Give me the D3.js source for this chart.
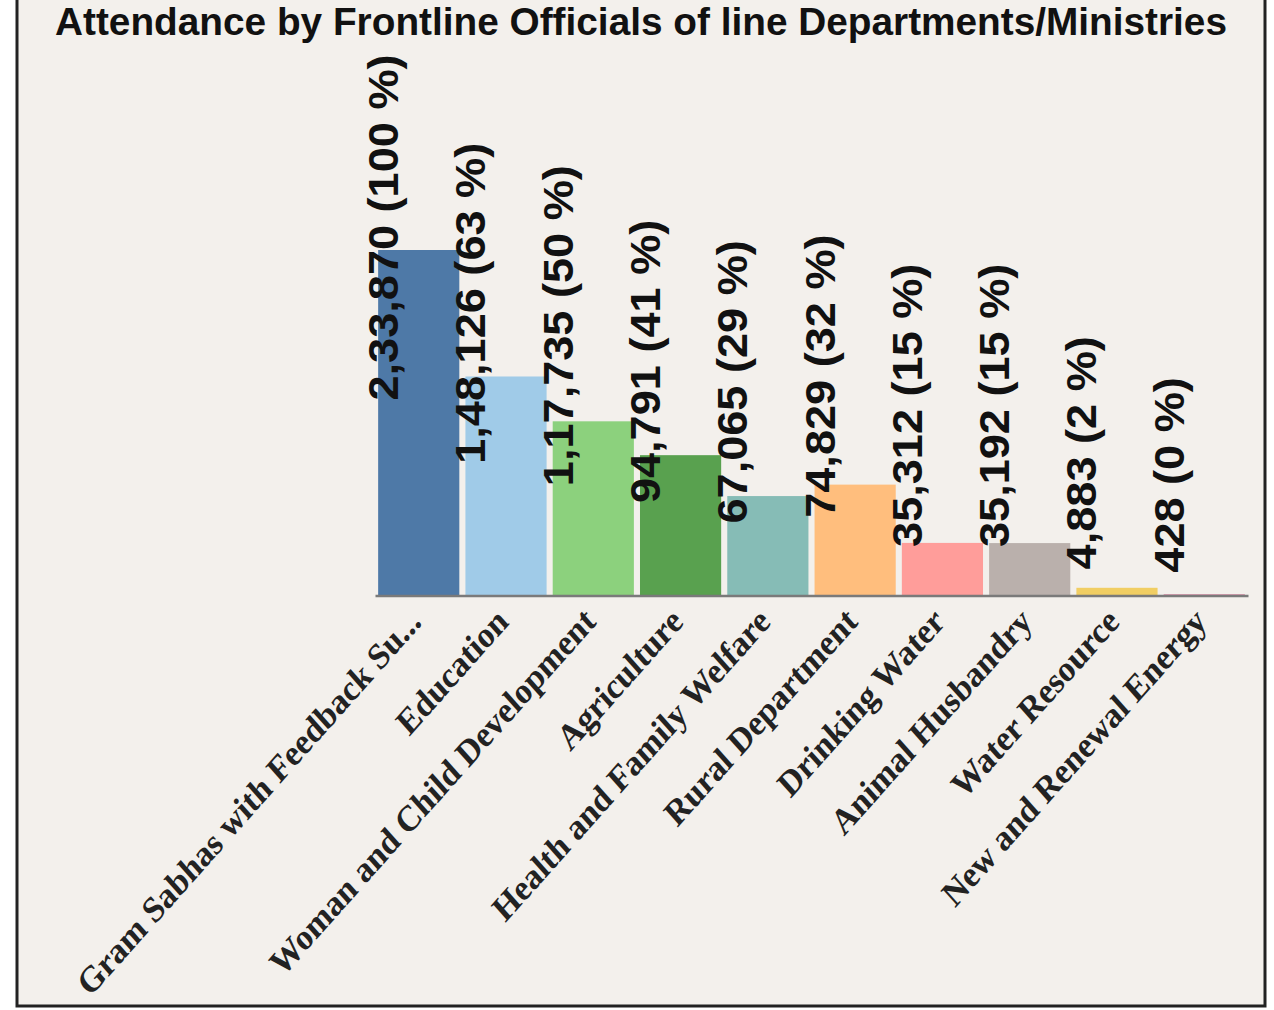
<!DOCTYPE html>
<html>
<head>
<meta charset="utf-8">
<script src="https://cdn.jsdelivr.net/npm/d3@7"></script>
<style>
  html, body { margin: 0; padding: 0; background: #ffffff; }
  svg { display: block; }
</style>
</head>
<body>
<svg id="chart" width="1274" height="1010"></svg>
<script>
const title = "Attendance by Frontline Officials of line Departments/Ministries";
const categories = [
  "Gram Sabhas with Feedback Su...",
  "Education",
  "Woman and Child Development",
  "Agriculture",
  "Health and Family Welfare",
  "Rural Department",
  "Drinking Water",
  "Animal Husbandry",
  "Water Resource",
  "New and Renewal Energy"
];
const values = [233870, 148126, 117735, 94791, 67065, 74829, 35312, 35192, 4883, 428];
const colors = ["#4e79a7", "#a0cbe8", "#8cd17d", "#59a14f", "#86bcb6",
                "#ffbe7d", "#ff9d9a", "#bab0ac", "#f1ce63", "#d37295"];

function fmtIN(n) {
  const s = String(n);
  if (s.length <= 3) return s;
  const last3 = s.slice(-3);
  const rest = s.slice(0, -3);
  return rest.replace(/\B(?=(\d{2})+(?!\d))/g, ",") + "," + last3;
}

const svg = d3.select("#chart");
const maxV = d3.max(values);

// panel background and frame
svg.append("rect").attr("x", 17).attr("y", 0).attr("width", 1248).attr("height", 1006)
  .attr("fill", "#f3f0ec");
svg.append("path").attr("d", "M17,0 V1006 H1265 V0")
  .attr("fill", "none").attr("stroke", "#222").attr("stroke-width", 3);

const x = d3.scaleBand().domain(categories).range([375, 1248])
  .paddingInner(0.07).paddingOuter(0.036);
const y = d3.scaleLinear().domain([0, maxV]).range([595, 250]);

// bars
svg.append("g").selectAll("rect").data(categories).join("rect")
  .attr("x", d => x(d))
  .attr("y", (d, i) => y(values[i]))
  .attr("width", x.bandwidth())
  .attr("height", (d, i) => y(0) - y(values[i]))
  .attr("fill", (d, i) => colors[i]);

// axis
const axis = d3.axisBottom(x).tickSize(0).tickPadding(0);
const gx = svg.append("g").attr("transform", `translate(0,${y(0) + 0.5})`).call(axis);
gx.select(".domain").attr("stroke", "#7a7a7a").attr("stroke-width", 2.5);
gx.selectAll(".tick text")
  .attr("text-anchor", "end")
  .attr("x", null).attr("y", null).attr("dy", null)
  .attr("transform", "translate(4,28) scale(1,1.125) rotate(-45)")
  .attr("font-family", "'Liberation Serif', 'Times New Roman', serif")
  .attr("font-weight", "bold")
  .attr("font-size", 32.5)
  .attr("fill", "#222");

// value labels
svg.append("g").selectAll("text").data(categories).join("text")
  .attr("transform", (d, i) => {
    const lx = x(d) + 20;
    const ly = (y(values[i]) + y(0)) / 2 - 22;
    return `translate(${lx},${ly}) scale(1,1.074) rotate(-90)`;
  })
  .attr("text-anchor", "start")
  .attr("font-family", "'Liberation Sans', Arial, sans-serif")
  .attr("font-weight", "bold")
  .attr("font-size", 42)
  .attr("fill", "#111")
  .text((d, i) => `${fmtIN(values[i])} (${Math.round(values[i] / maxV * 100)} %)`);

// title
svg.append("text")
  .attr("x", 641).attr("y", 35)
  .attr("text-anchor", "middle")
  .attr("font-family", "'Liberation Sans', Arial, sans-serif")
  .attr("font-weight", "bold")
  .attr("font-size", 39)
  .attr("textLength", 1172)
  .attr("lengthAdjust", "spacingAndGlyphs")
  .attr("fill", "#111")
  .text(title);
</script>
</body>
</html>
